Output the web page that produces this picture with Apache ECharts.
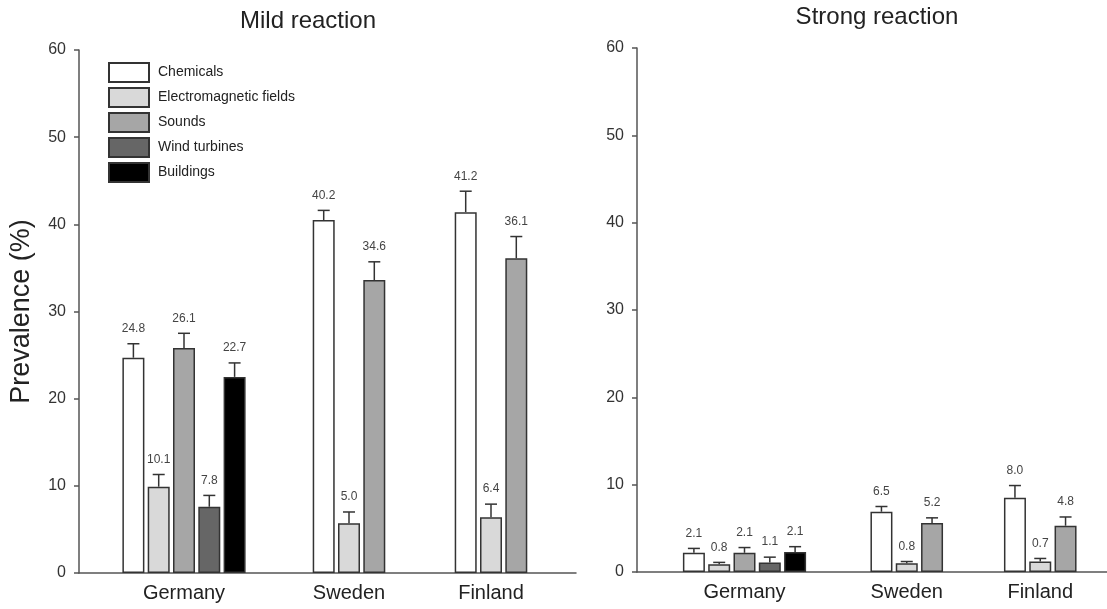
<!DOCTYPE html>
<html>
<head>
<meta charset="utf-8">
<script src="https://cdn.jsdelivr.net/npm/echarts@6/dist/echarts.min.js"></script>
<style>
  html, body { margin: 0; padding: 0; background: #fff; }
  #chart { width: 1107px; height: 609px; }
</style>
</head>
<body>
<div id="chart"></div>
<script>
const countries = ['Germany', 'Sweden', 'Finland'];
const factors = ['Chemicals', 'Electromagnetic fields', 'Sounds', 'Wind turbines', 'Buildings'];
const yTicks = [0, 10, 20, 30, 40, 50, 60];

// bar heights, one row per country (Sweden/Finland have 3 factors)
const mildValues = [[24.7, 9.9, 25.8, 7.6, 22.5], [40.5, 5.7, 33.6], [41.4, 6.4, 36.1]];
const mildErrors = [[1.6, 1.4, 1.7, 1.3, 1.6], [1.1, 1.3, 2.1], [2.4, 1.5, 2.5]];
const mildLabels = [['24.8', '10.1', '26.1', '7.8', '22.7'], ['40.2', '5.0', '34.6'], ['41.2', '6.4', '36.1']];

const strongValues = [[2.2, 0.9, 2.2, 1.1, 2.3], [6.9, 1.0, 5.6], [8.5, 1.2, 5.3]];
const strongErrors = [[0.5, 0.2, 0.6, 0.6, 0.6], [0.6, 0.2, 0.6], [1.4, 0.35, 1.0]];
const strongLabels = [['2.1', '0.8', '2.1', '1.1', '2.1'], ['6.5', '0.8', '5.2'], ['8.0', '0.7', '4.8']];

const colors = ['#ffffff', '#d9d9d9', '#a6a6a6', '#666666', '#000000'];
const FONT = '"Liberation Sans", Arial, sans-serif';
const BAR_W = 22;
const BAR_GAP = 0.15;
const AXIS_COLOR = '#555';

// panel layouts: frame grid (axes), Germany grid, Sweden/Finland grid
const panels = [
  { values: mildValues, errors: mildErrors, labels: mildLabels,
    frame: { left: 79, width: 497, top: 50, bottom: 36 },
    ger: { left: 114, width: 140 }, rest: { left: 278, width: 284 }, showName: true },
  { values: strongValues, errors: strongErrors, labels: strongLabels,
    frame: { left: 637, right: 0, top: 48, bottom: 37 },
    ger: { left: 674.5, width: 140 }, rest: { left: 840, width: 285 }, showName: false }
];

function errorItem(nSlots, labels) {
  return function (params, api) {
    const cat = api.value(0), slot = api.value(1), v = api.value(2), e = api.value(3);
    const base = api.coord([cat, v]);
    const top = api.coord([cat, v + e]);
    const x = base[0] + (slot - (nSlots - 1) / 2) * BAR_W * (1 + BAR_GAP);
    const st = { stroke: '#333', lineWidth: 1.5 };
    return {
      type: 'group',
      children: [
        { type: 'line', shape: { x1: x, y1: base[1], x2: x, y2: top[1] }, style: st },
        { type: 'line', shape: { x1: x - 6, y1: top[1], x2: x + 6, y2: top[1] }, style: st },
        { type: 'text', x: x, y: top[1] - 9,
          style: { text: labels[params.dataIndex], align: 'center', verticalAlign: 'bottom',
                   fontSize: 12, fontFamily: FONT, fill: '#444' } }
      ]
    };
  };
}

const grid = [], xAxis = [], yAxis = [], series = [];

panels.forEach(function (p) {
  const g0 = grid.length;
  grid.push(Object.assign({}, p.frame));
  grid.push({ left: p.ger.left, width: p.ger.width, top: p.frame.top, bottom: p.frame.bottom });
  grid.push({ left: p.rest.left, width: p.rest.width, top: p.frame.top, bottom: p.frame.bottom });

  // frame axes
  xAxis.push({ gridIndex: g0, type: 'value', min: 0, max: 1,
    axisLine: { show: true, lineStyle: { color: AXIS_COLOR, width: 1.5 } },
    axisTick: { show: false }, axisLabel: { show: false }, splitLine: { show: false } });
  yAxis.push({ gridIndex: g0, type: 'value', min: 0, max: 60, interval: 10,
    name: p.showName ? 'Prevalence (%)' : '', nameLocation: 'middle', nameGap: 44,
    nameTextStyle: { fontSize: 27, fontFamily: FONT, color: '#222' },
    axisLine: { show: true, lineStyle: { color: AXIS_COLOR, width: 1.5 } },
    axisTick: { show: true, inside: false, length: 5, lineStyle: { color: AXIS_COLOR, width: 1.5 } },
    axisLabel: { margin: 13, fontSize: 16, fontFamily: FONT, color: '#333',
      customValues: yTicks },
    splitLine: { show: false } });

  // bar axes
  const catGroups = [countries.slice(0, 1), countries.slice(1)];
  catGroups.forEach(function (cats, k) {
    xAxis.push({ gridIndex: g0 + 1 + k, type: 'category', data: cats,
      axisLine: { show: false }, axisTick: { show: false },
      axisLabel: { margin: 10, fontSize: 20, fontFamily: FONT, color: '#222' } });
    yAxis.push({ gridIndex: g0 + 1 + k, type: 'value', min: 0, max: 60, show: false });
  });

  // Germany: 5 factors
  const axG = xAxis.length - 2, axR = xAxis.length - 1;
  factors.forEach(function (f, i) {
    series.push({ type: 'bar', name: f, xAxisIndex: axG, yAxisIndex: axG,
      barWidth: BAR_W, barGap: (BAR_GAP * 100) + '%',
      itemStyle: { color: colors[i], borderColor: '#333', borderWidth: 1.5 },
      data: [p.values[0][i]] });
  });
  series.push({ type: 'custom', xAxisIndex: axG, yAxisIndex: axG, silent: true,
    renderItem: errorItem(5, p.labels[0]),
    encode: { x: 0, y: 2 },
    data: factors.map(function (f, i) { return [0, i, p.values[0][i], p.errors[0][i]]; }) });

  // Sweden, Finland: 3 factors
  const restLabels = [];
  const restData = [];
  factors.slice(0, 3).forEach(function (f, i) {
    series.push({ type: 'bar', name: f, xAxisIndex: axR, yAxisIndex: axR,
      barWidth: BAR_W, barGap: (BAR_GAP * 100) + '%',
      itemStyle: { color: colors[i], borderColor: '#333', borderWidth: 1.5 },
      data: [p.values[1][i], p.values[2][i]] });
  });
  [1, 2].forEach(function (c) {
    for (let i = 0; i < 3; i++) {
      restData.push([c - 1, i, p.values[c][i], p.errors[c][i]]);
      restLabels.push(p.labels[c][i]);
    }
  });
  series.push({ type: 'custom', xAxisIndex: axR, yAxisIndex: axR, silent: true,
    renderItem: errorItem(3, restLabels), encode: { x: 0, y: 2 }, data: restData });
});

const chart = echarts.init(document.getElementById('chart'));
chart.setOption({
  animation: false,
  backgroundColor: '#fff',
  title: [
    { text: 'Mild reaction', left: 303, top: 4, textAlign: 'center',
      textStyle: { fontSize: 24, fontWeight: 'normal', fontFamily: FONT, color: '#222' } },
    { text: 'Strong reaction', left: 872, top: 0, textAlign: 'center',
      textStyle: { fontSize: 24, fontWeight: 'normal', fontFamily: FONT, color: '#222' } }
  ],
  legend: {
    data: factors, orient: 'vertical', left: 108, top: 62, padding: 0,
    icon: 'rect', itemWidth: 40, itemHeight: 19, itemGap: 4, selectedMode: false,
    textStyle: { fontSize: 14, fontFamily: FONT, color: '#222', padding: [0, 0, 0, 4] }
  },
  grid: grid,
  xAxis: xAxis,
  yAxis: yAxis,
  series: series
});
</script>
</body>
</html>
